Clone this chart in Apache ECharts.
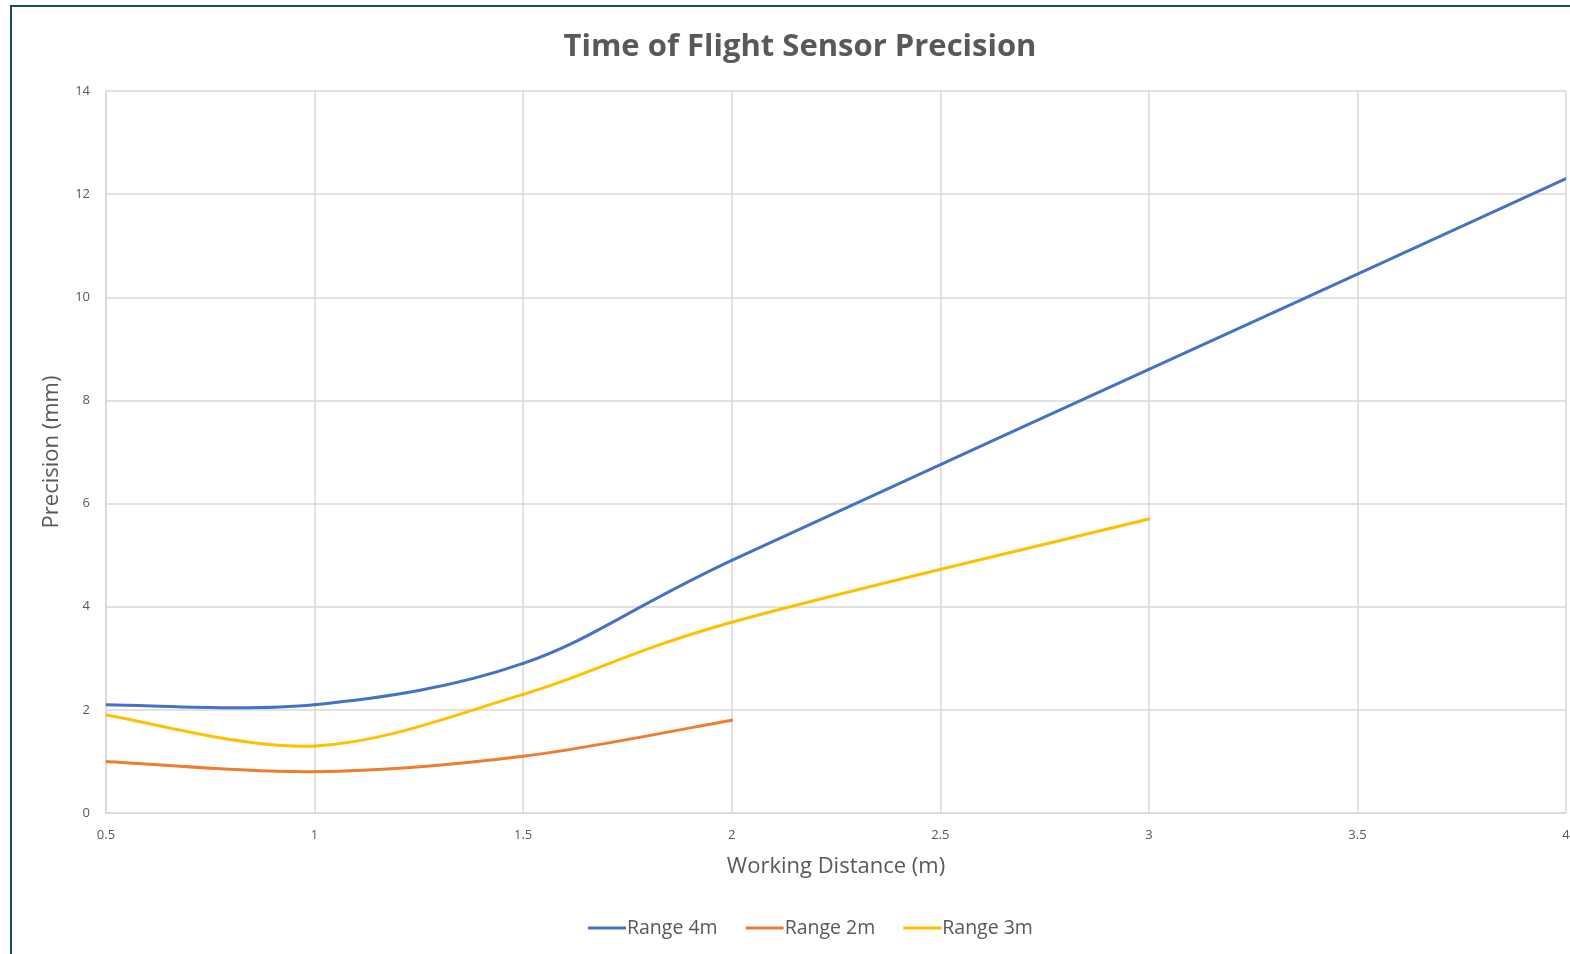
<!DOCTYPE html>
<html>
<head>
<meta charset="utf-8">
<script src="https://cdn.jsdelivr.net/npm/echarts@6/dist/echarts.min.js"></script>
<style>
  html, body { margin: 0; padding: 0; background: #fff; overflow: hidden; }
  #chart { width: 1570px; height: 954px; position: absolute; left: 0; top: 0; }
  #frame { position: absolute; left: 10px; top: 5px; width: 1570px; height: 960px;
           border-left: 2px solid #1d4d57; border-top: 2px solid #1d4d57; pointer-events: none; }
</style>
</head>
<body>
<div id="chart"></div>
<div id="frame"></div>
<script>
const distances4m = [0.5, 1, 1.5, 2, 3, 4];
const range4m = [2.1, 2.1, 2.9, 4.9, 8.6, 12.3];
const distances2m = [0.5, 1, 1.5, 2];
const range2m = [1.0, 0.8, 1.1, 1.8];
const distances3m = [0.5, 1, 1.5, 2, 3];
const range3m = [1.9, 1.3, 2.3, 3.7, 5.7];
const seriesNames = ['Range 4m', 'Range 2m', 'Range 3m'];
const seriesColors = ['#4472C4', '#ED7D31', '#FFC000'];
const chartTitle = 'Time of Flight Sensor Precision';
const xTitle = 'Working Distance (m)';
const yTitle = 'Precision (mm)';

function pairs(xs, ys) { return xs.map((x, i) => [x, ys[i]]); }

// Smooth line drawn as Catmull-Rom style Bezier segments (like spreadsheet "smoothed line"),
// with every anchor placed through the chart's own coordinate system.
function smoothSeries(i, xs, ys) {
  const n = xs.length;
  const color = seriesColors[i];
  return {
    name: seriesNames[i], type: 'custom', data: pairs(xs, ys),
    encode: { x: 0, y: 1 }, clip: true,
    itemStyle: { color: color },
    renderItem: function (params, api) {
      const k = params.dataIndex;
      if (k >= n - 1) return null;
      const P = j => { const m = Math.max(0, Math.min(n - 1, j)); return api.coord([xs[m], ys[m]]); };
      const p0 = P(k - 1), p1 = P(k), p2 = P(k + 1), p3 = P(k + 2);
      return {
        type: 'bezierCurve',
        shape: {
          x1: p1[0], y1: p1[1], x2: p2[0], y2: p2[1],
          cpx1: p1[0] + (p2[0] - p0[0]) / 6, cpy1: p1[1] + (p2[1] - p0[1]) / 6,
          cpx2: p2[0] - (p3[0] - p1[0]) / 6, cpy2: p2[1] - (p3[1] - p1[1]) / 6
        },
        style: { stroke: color, lineWidth: 3, fill: null, lineCap: 'round' }
      };
    }
  };
}

const font = '"Open Sans", sans-serif';
const chart = echarts.init(document.getElementById('chart'));
chart.setOption({
  animation: false,
  graphic: [{
    type: 'text', x: 800, y: 47,
    style: { text: chartTitle, fontFamily: font, fontSize: 31, fontWeight: 'bold', fill: '#595959',
             align: 'center', verticalAlign: 'middle' }
  }],
  grid: { left: 106, right: 4, top: 91, bottom: 141, outerBoundsMode: 'none', containLabel: false },
  xAxis: {
    type: 'value', min: 0.5, max: 4, interval: 0.5,
    name: xTitle, nameLocation: 'middle', nameGap: 43,
    nameTextStyle: { fontFamily: font, fontSize: 22, color: '#595959' },
    axisLine: { lineStyle: { color: '#d9d9d9', width: 1.5 } },
    axisTick: { show: false },
    splitLine: { show: true, lineStyle: { color: '#d9d9d9', width: 1.5 } },
    axisLabel: { fontFamily: font, fontSize: 13, color: '#595959', margin: 16 }
  },
  yAxis: {
    type: 'value', min: 0, max: 14, interval: 2,
    name: yTitle, nameLocation: 'middle', nameGap: 43, nameRotate: 90,
    nameTextStyle: { fontFamily: font, fontSize: 22, color: '#595959' },
    axisLine: { show: true, lineStyle: { color: '#d9d9d9', width: 1.5 } },
    axisTick: { show: false },
    splitLine: { show: true, lineStyle: { color: '#d9d9d9', width: 1.5 } },
    axisLabel: { fontFamily: font, fontSize: 13, color: '#595959', margin: 16 }
  },
  legend: {
    top: 913, left: 583, icon: 'rect', itemWidth: 38, itemHeight: 3, itemGap: 28,
    textStyle: { fontFamily: font, fontSize: 19.5, color: '#595959', padding: [0, 0, 0, -4] },
    data: seriesNames
  },
  series: [
    smoothSeries(0, distances4m, range4m),
    smoothSeries(1, distances2m, range2m),
    smoothSeries(2, distances3m, range3m)
  ]
});
</script>
</body>
</html>
